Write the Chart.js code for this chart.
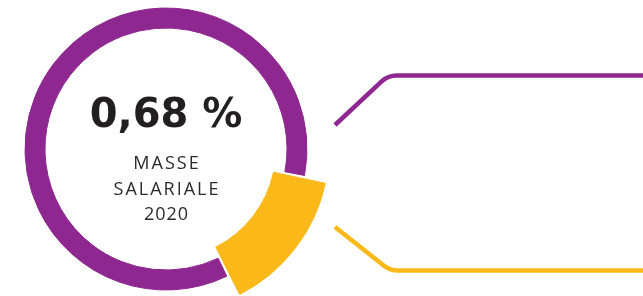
<!DOCTYPE html>
<html>
<head>
<meta charset="utf-8">
<script src="https://cdn.jsdelivr.net/npm/chart.js@4/dist/chart.umd.min.js"></script>
<style>
  html, body { margin: 0; padding: 0; background: #fff; }
  #wrap { width: 643px; height: 296px; position: relative; }
</style>
</head>
<body>
<div id="wrap"><canvas id="ringChart" width="643" height="296"></canvas></div>
<script>
const categories = ['Part', 'Reste'];
const shareValues = [14.25, 85.75];
const ringColors = ['#fbb819', '#8e278f'];
const centerValue = '0,68 %';
const centerLabel = ['MASSE', 'SALARIALE', '2020'];

// yellow slice is thicker than the purple ring: split the ring in 3 layers
const layerWeights = [22, 20, 11];
const layerColors = [
    [ringColors[0], 'rgba(0,0,0,0)'],
    [ringColors[0], ringColors[1]],
    [ringColors[0], 'rgba(0,0,0,0)']
];

const centerText = {
    id: 'centerText',
    afterDraw(chart) {
        const ctx = chart.ctx;
        const arc = chart.getDatasetMeta(1).data[0];
        const cx = arc.x, cy = arc.y;

        ctx.save();
        ctx.textAlign = 'center';
        ctx.textBaseline = 'middle';
        ctx.fillStyle = '#231f20';
        ctx.font = 'bold 40px "DejaVu Sans"';
        ctx.fillText(centerValue, cx, cy - 32);

        ctx.fillStyle = '#2b2b2b';
        ctx.font = '18px "Open Sans"';
        const spacing = ['2px', '2px', '1px'];
        centerLabel.forEach((txt, i) => {
            ctx.letterSpacing = spacing[i];
            ctx.fillText(txt, cx + parseFloat(spacing[i]) / 2, cy + 15 + i * 25.5);
        });
        ctx.letterSpacing = '0px';

        // connector lines
        ctx.lineWidth = 4.5;
        ctx.lineCap = 'butt';
        ctx.strokeStyle = ringColors[1];
        ctx.beginPath();
        ctx.moveTo(335, 125);
        ctx.arcTo(388, 75.5, 643, 75.5, 22);
        ctx.lineTo(643, 75.5);
        ctx.stroke();

        ctx.strokeStyle = ringColors[0];
        ctx.beginPath();
        ctx.moveTo(335, 227);
        ctx.arcTo(390, 270.5, 643, 270.5, 22);
        ctx.lineTo(643, 270.5);
        ctx.stroke();
        ctx.restore();
    }
};

new Chart(document.getElementById('ringChart'), {
    type: 'doughnut',
    data: {
        labels: categories,
        datasets: layerWeights.map((w, i) => ({
            data: shareValues,
            weight: w,
            backgroundColor: layerColors[i],
            borderColor: layerColors[i],
            borderWidth: 1,
            spacing: 2
        }))
    },
    options: {
        responsive: false,
        animation: false,
        events: [],
        rotation: 102,
        radius: 162,
        cutout: '67.3%',
        layout: { padding: { top: 2, right: 311, left: 0, bottom: 0 } },
        plugins: {
            legend: { display: false },
            tooltip: { enabled: false }
        }
    },
    plugins: [centerText]
});
</script>
</body>
</html>
